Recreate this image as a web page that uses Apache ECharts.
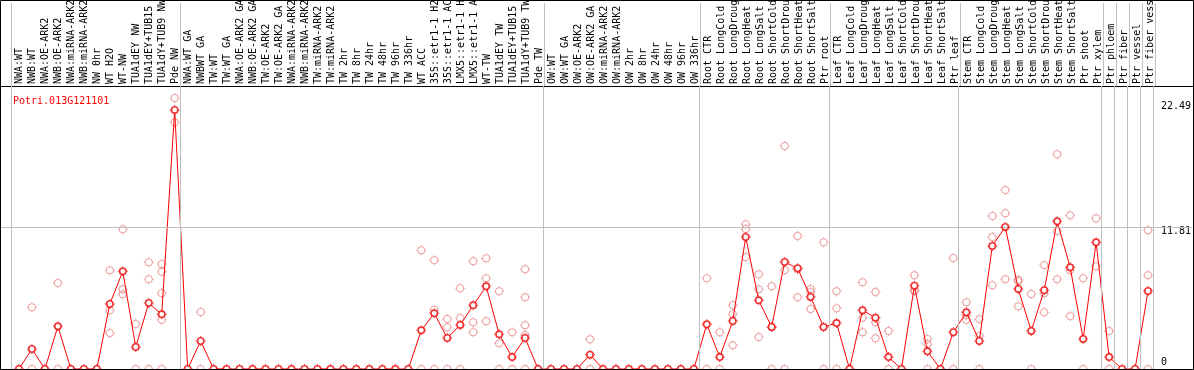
<!DOCTYPE html>
<html>
<head>
<meta charset="utf-8">
<script src="https://cdn.jsdelivr.net/npm/echarts@6/dist/echarts.min.js"></script>
<style>
html,body{margin:0;padding:0;background:#fff;}
#chart{width:1194px;height:370px;}
</style>
</head>
<body>
<div id="chart"></div>
<script>
const categories = [
  "NWA:WT","NWB:WT","NWA:OE-ARK2","NWB:OE-ARK2","NWA:miRNA-ARK2","NWB:miRNA-ARK2","NW 0hr","WT H2O","WT-NW",
  "TUA1dEY NW","TUA1dEY+TUB15","TUA1dY+TUB9 NW","Pde NW",
  "NWA:WT GA","NWBWT GA","TW:WT","TW:WT GA","NWA:OE-ARK2 GA","NWB:OE-ARK2 GA","TW:OE-ARK2","TW:OE-ARK2 GA",
  "NWA:miRNA-ARK2","NWB:miRNA-ARK2","TW:miRNA-ARK2","TW:miRNA-ARK2","TW 2hr","TW 8hr","TW 24hr","TW 48hr","TW 96hr","TW 336hr",
  "WT ACC","35S::etr1-1 H2","35S::etr1-1 AC","LMX5::etr1-1 H","LMX5::etr1-1 A","WT-TW","TUA1dEY TW","TUA1dEY+TUB15","TUA1dY+TUB9 TW","Pde TW",
  "OW:WT","OW:WT GA","OW:OE-ARK2","OW:OE-ARK2 GA","OW:miRNA-ARK2","OW:miRNA-ARK2","OW 2hr","OW 8hr","OW 24hr","OW 48hr","OW 96hr","OW 336hr",
  "Root CTR","Root LongCold","Root LongDroug","Root LongHeat","Root LongSalt","Root ShortCold","Root ShortDrou","Root ShortHeat","Root ShortSalt","Ptr root",
  "Leaf CTR","Leaf LongCold","Leaf LongDroug","Leaf LongHeat","Leaf LongSalt","Leaf ShortCold","Leaf ShortDrou","Leaf ShortHeat","Leaf ShortSalt","Ptr leaf",
  "Stem CTR","Stem LongCold","Stem LongDroug","Stem LongHeat","Stem LongSalt","Stem ShortCold","Stem ShortDrou","Stem ShortHeat","Stem ShortSalt","Ptr shoot",
  "Ptr xylem","Ptr phloem","Ptr fiber","Ptr vessel","Ptr fiber vess"
];

const meanValues = [
  0, 1.67, 0, 3.57, 0, 0, 0, 5.43, 8.16, 1.84, 5.52, 4.57, 21.65,
  0, 2.34, 0, 0, 0, 0, 0, 0, 0, 0, 0, 0, 0, 0, 0, 0, 0, 0,
  3.23, 4.65, 2.59, 3.68, 5.32, 6.91, 2.9, 1.0, 2.59, 0,
  0, 0, 0, 1.2, 0, 0, 0, 0, 0, 0, 0, 0,
  3.73, 1.0, 4.01, 11.03, 5.74, 3.51, 8.94, 8.42, 6.02, 3.51,
  3.84, 0, 4.9, 4.29, 1.0, 0, 6.96, 1.48, 0, 3.07,
  4.74, 2.34, 10.28, 11.87, 6.69, 3.18, 6.58, 12.34, 8.5, 2.51,
  10.59, 1.0, 0, 0, 6.52
];

const replicateValues = [
  [], [5.16, 0], [], [7.19, 0], [], [], [], [8.25, 4.9, 3.0], [11.67, 6.66, 6.24],
  [3.76, 0], [8.92, 7.5, 0], [8.78, 8.13, 6.32, 4.12, 0], [22.65, 20.62],
  [], [4.76, 0], [], [], [], [], [], [], [], [], [], [], [], [], [], [], [], [],
  [9.92, 0], [9.08, 4.96, 0], [4.18, 3.48, 0], [6.74, 4.26, 0], [9.0, 3.9, 3.07], [9.25, 7.58, 3.98],
  [6.49, 2.15, 0], [3.07, 0], [8.33, 5.99, 3.65, 2.84, 0], [],
  [], [], [], [2.48, 0], [], [], [], [], [], [], [], [],
  [7.58, 0], [3.07, 0], [5.35, 4.6, 1.98], [12.09, 11.7, 9.36], [7.91, 6.66, 2.67], [6.91, 3.5, 0],
  [18.64, 8.25, 0], [11.12, 8.34, 5.99], [6.69, 6.44, 5.01], [10.59, 0],
  [6.49, 5.07, 0], [], [7.25, 4.29, 3.07], [6.44, 3.9, 2.56], [3.18, 0], [], [7.83, 6.6, 6.5],
  [2.51, 2.09, 0], [], [9.28, 0],
  [5.57, 4.5, 4.12], [4.15, 2.76, 0], [12.79, 11.03, 7.0], [14.96, 13.01, 7.5], [7.46, 7.33, 5.24],
  [6.27, 0], [8.69, 6.32, 4.74], [17.94, 11.53, 7.5], [12.85, 8.25, 4.4], [7.58, 0],
  [12.59, 8.58], [3.18, 0], [], [], [11.59, 7.83, 0]
];

const yTickLabels = [0, 11.81, 22.49];
const geneName = "Potri.013G121101";
// group separators: a line is drawn after these category indices
const separatorsAfter = [-1, 12, 40, 52, 62, 72, 83, 84, 85, 86, 87];

const FONT = "DejaVu Sans Mono";
const X_MIN = -1.46, X_MAX = 90.38, Y_MAX = 23.65;
const GRID_COLOR = "#c0c0c0";
const sepLines = separatorsAfter.map(i => ({ xAxis: i + 0.4 }));

const RING = "M1 5A4 4 0 1 1 9 5A4 4 0 1 1 1 5Z M2 5A3 3 0 1 0 8 5A3 3 0 1 0 2 5Z " +
  "M4.5 0H5.5V1.5H4.5Z M4.5 8.5H5.5V10H4.5Z M0 4.5H1.5V5.5H0Z M8.5 4.5H10V5.5H8.5Z";
const RING_THICK = "M1 5A4 4 0 1 1 9 5A4 4 0 1 1 1 5Z M2.6 5A2.4 2.4 0 1 0 7.4 5A2.4 2.4 0 1 0 2.6 5Z " +
  "M4.5 0H5.5V1.5H4.5Z M4.5 8.5H5.5V10H4.5Z M0 4.5H1.5V5.5H0Z M8.5 4.5H10V5.5H8.5Z";

const meanData = meanValues.map((v, i) => [i, v]);
const repData = [];
replicateValues.forEach((arr, i) => arr.forEach(v => repData.push([i, v])));

const chart = echarts.init(document.getElementById('chart'), null, { renderer: 'canvas' });
const labelPads = [[0, 0, 14, 0], [8, 0, 0, 0], [14, 0, 0, 0]];
const rich = {};
labelPads.forEach((p, k) => { rich['l' + k] = { padding: p, fontFamily: FONT, fontSize: 10, color: '#000' }; });

chart.setOption({
  animation: false,
  backgroundColor: '#fff',
  title: {
    text: geneName, left: 8, top: 91,
    textStyle: { color: '#ff0000', fontFamily: FONT, fontSize: 10, fontWeight: 'normal' }
  },
  grid: [
    { left: 0, right: 0, top: 0, height: 86 },
    { left: 0, right: 0, top: 86, bottom: 1 }
  ],
  xAxis: [
    {
      type: 'value', gridIndex: 0, min: X_MIN, max: X_MAX, position: 'bottom',
      splitLine: { show: false },
      axisLine: { show: true, onZero: false, lineStyle: { color: '#000', width: 1 } },
      axisTick: { show: false },
      axisLabel: {
        show: true, inside: true, rotate: 90, margin: 2,
        customValues: categories.map((_, i) => i),
        formatter: v => categories[v],
        fontFamily: FONT, fontSize: 10, color: '#000'
      }
    },
    {
      type: 'value', gridIndex: 1, min: X_MIN, max: X_MAX,
      splitLine: { show: false }, axisLine: { show: false }, axisTick: { show: false }, axisLabel: { show: false }
    }
  ],
  yAxis: [
    { type: 'value', gridIndex: 0, min: 0, max: 1, show: false },
    {
      type: 'value', gridIndex: 1, min: 0, max: Y_MAX, position: 'right',
      splitLine: { show: false }, axisLine: { show: false }, axisTick: { show: false },
      axisLabel: {
        inside: true, margin: 31, align: 'left',
        customValues: yTickLabels,
        formatter: (v, idx) => {
          const k = yTickLabels.indexOf(v);
          return '{l' + (k < 0 ? 1 : k) + '|' + v + '}';
        },
        rich: rich,
        fontFamily: FONT, fontSize: 10, color: '#000'
      }
    }
  ],
  graphic: [
    { type: 'rect', shape: { x: 0.5, y: 0.5, width: 1193, height: 369 }, style: { fill: null, stroke: '#000', lineWidth: 1 }, z: 100, silent: true }
  ],
  series: [
    {
      type: 'line', xAxisIndex: 0, yAxisIndex: 0, data: [], silent: true,
      markLine: { silent: true, symbol: 'none', label: { show: false },
        lineStyle: { color: GRID_COLOR, type: 'solid', width: 1 }, data: sepLines }
    },
    {
      type: 'line', xAxisIndex: 1, yAxisIndex: 1, data: [], silent: true,
      markLine: { silent: true, symbol: 'none', label: { show: false },
        lineStyle: { color: GRID_COLOR, type: 'solid', width: 1 },
        data: sepLines.concat([{ yAxis: yTickLabels[1] }]) }
    },
    {
      type: 'scatter', xAxisIndex: 1, yAxisIndex: 1, data: repData, silent: true,
      symbol: 'path://' + RING, symbolSize: 10,
      itemStyle: { color: '#e98c8c' }, z: 3
    },
    {
      type: 'line', xAxisIndex: 1, yAxisIndex: 1, data: meanData, silent: true,
      symbol: 'circle', symbolSize: 7, showAllSymbol: true,
      itemStyle: { color: '#ffffff' },
      lineStyle: { color: '#ff0000', width: 1 }, z: 4
    },
    {
      type: 'scatter', xAxisIndex: 1, yAxisIndex: 1, data: meanData, silent: true,
      symbol: 'path://' + RING_THICK, symbolSize: 10,
      itemStyle: { color: '#ee0000' }, z: 5
    }
  ]
});
</script>
</body>
</html>
